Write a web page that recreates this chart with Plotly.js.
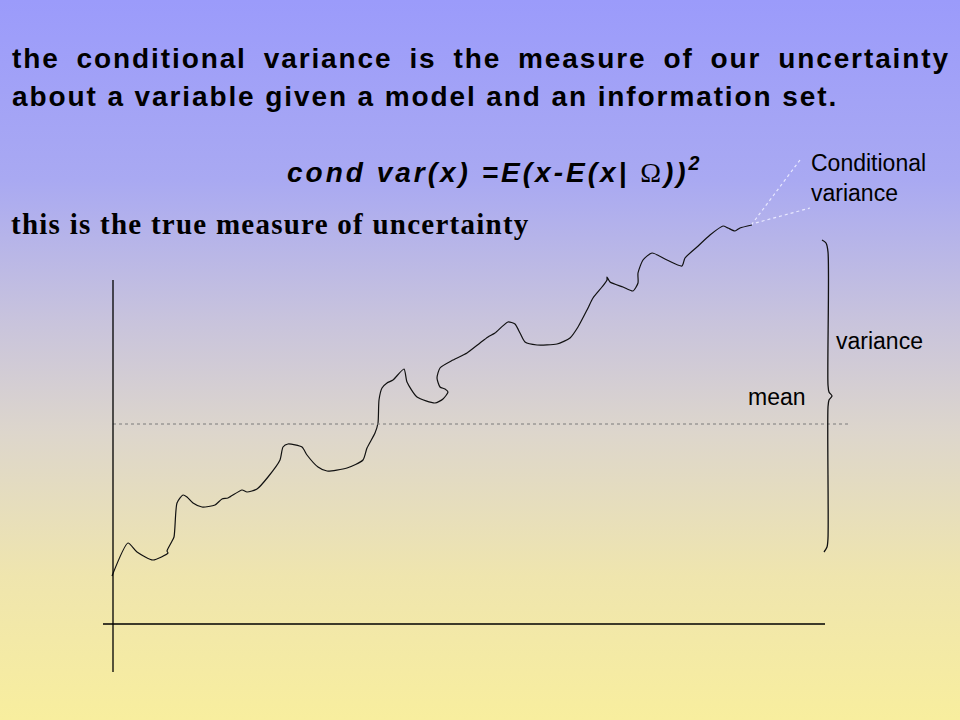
<!DOCTYPE html>
<html>
<head>
<meta charset="utf-8">
<script src="https://cdn.plot.ly/plotly-3.0.1.min.js"></script>
<style>
  html, body { margin: 0; padding: 0; width: 960px; height: 720px; overflow: hidden; }
  body { background: linear-gradient(to bottom, #9b9bfb 0%, #a9a9f2 25%, #c9c4dc 45%, #ddd6cc 60%, #efe5ae 80%, #f8ee9e 100%); }
  #chart { width: 960px; height: 720px; }
</style>
</head>
<body>
<div id="chart"></div>
<script>
// ---- data (x = time, y = value; origin at the axes' crossing) ----
const pathX = [-1, 15, 24, 40, 55, 54, 58, 61, 64, 70, 74, 80, 89, 102, 109, 115, 129, 134, 144, 155,
  167, 170, 175, 189, 194, 205, 214, 234, 250, 254, 262, 265, 266, 269, 274, 280, 291, 294, 304, 322,
  330, 335, 332, 327, 324, 327, 340, 354, 367, 375, 382, 395, 402, 407, 412, 424, 444, 457, 465, 474,
  480, 489, 494, 494, 497, 510, 520, 525, 525, 530, 539, 554, 569, 572, 584, 597, 610, 615, 622, 627, 639];
const pathY = [48, 81, 72, 64, 71, 73, 81, 87, 121, 129, 127, 121, 117, 119, 125, 126, 134, 132, 135, 147,
  164, 177, 180, 177, 169, 157, 153, 156, 164, 176, 191, 201, 224, 236, 241, 244, 255, 242, 227, 221,
  225, 232, 235, 237, 246, 256, 264, 271, 281, 287, 291, 302, 300, 291, 282, 279, 280, 286, 297, 314,
  326, 337, 344, 347, 342, 337, 333, 341, 351, 364, 371, 364, 358, 366, 377, 389, 398, 396, 393, 396, 399];
const meanValue = 200;
const meanSpan = [0, 735];
const yAxisSpan = [-48, 344];
const xAxisSpan = [-10, 712];
const braceX = [709, 713, 715, 715, 716, 719, 716, 715, 715, 714, 711];
const braceY = [384, 381, 372, 239, 232, 228, 224, 217, 86, 77, 72];
const leaderX = [687, 639, 697];
const leaderY = [464, 400, 416];

// ---- texts ----
const line1 = 'the conditional variance is the measure of our uncertainty';
const line2 = 'about a variable given a model and an information set.';
const formula = 'cond var(x) =E(x-E(x| <span style="font-family:\'Liberation Serif\';font-weight:normal;font-style:normal">&#937;</span>))<sup>2</sup>';
const line3 = 'this is the true measure of uncertainty';
const condLabel = 'Conditional<br>variance';
const varLabel = 'variance';
const meanLabel = 'mean';

const traces = [
  { x: pathX, y: pathY, type: 'scatter', mode: 'lines',
    line: { color: '#111111', width: 1.2, shape: 'spline', smoothing: 0.6 }, hoverinfo: 'skip' },
  { x: meanSpan, y: [meanValue, meanValue], type: 'scatter', mode: 'lines',
    line: { color: '#7a7a7a', width: 1, dash: 'dot' }, hoverinfo: 'skip' },
  { x: [0, 0], y: yAxisSpan, type: 'scatter', mode: 'lines',
    line: { color: '#000000', width: 1.3 }, hoverinfo: 'skip' },
  { x: xAxisSpan, y: [0, 0], type: 'scatter', mode: 'lines',
    line: { color: '#000000', width: 1.3 }, hoverinfo: 'skip' },
  { x: braceX, y: braceY, type: 'scatter', mode: 'lines',
    line: { color: '#111111', width: 1.3, shape: 'spline', smoothing: 0.8 }, hoverinfo: 'skip' },
  { x: leaderX, y: leaderY, type: 'scatter', mode: 'lines',
    line: { color: '#e8e8ff', width: 1.2, dash: 'dot' }, hoverinfo: 'skip' }
];

const sansBold = { family: 'Liberation Sans, Arial, sans-serif', size: 28, color: '#000000', weight: 'bold' };
const sans = { family: 'Liberation Sans, Arial, sans-serif', size: 23, color: '#000000' };

const layout = {
  width: 960, height: 720,
  margin: { l: 0, r: 0, t: 0, b: 0, pad: 0 },
  paper_bgcolor: 'rgba(0,0,0,0)', plot_bgcolor: 'rgba(0,0,0,0)',
  showlegend: false,
  xaxis: { range: [-113, 847], visible: false, fixedrange: true },
  yaxis: { range: [-96, 624], visible: false, fixedrange: true },
  annotations: [
    { xref: 'paper', yref: 'paper', x: 10 / 960, y: 1 - 58 / 720, xanchor: 'left', yanchor: 'middle',
      text: '<span style="letter-spacing:1.9px;word-spacing:7.2px">' + line1 + '</span>', showarrow: false, font: sansBold },
    { xref: 'paper', yref: 'paper', x: 10 / 960, y: 1 - 97 / 720, xanchor: 'left', yanchor: 'middle',
      text: '<span style="letter-spacing:1.9px">' + line2 + '</span>', showarrow: false, font: sansBold },
    { xref: 'paper', yref: 'paper', x: 285 / 960, y: 1 - 170 / 720, xanchor: 'left', yanchor: 'middle',
      text: '<span style="letter-spacing:3px">' + formula + '</span>', showarrow: false,
      font: { family: 'Liberation Sans, Arial, sans-serif', size: 28, color: '#000000', weight: 'bold', style: 'italic' } },
    { xref: 'paper', yref: 'paper', x: 9 / 960, y: 1 - 224 / 720, xanchor: 'left', yanchor: 'middle',
      text: '<span style="letter-spacing:1.25px">' + line3 + '</span>', showarrow: false,
      font: { family: 'Liberation Serif, Times New Roman, serif', size: 29, color: '#000000', weight: 'bold' } },
    { xref: 'paper', yref: 'paper', x: 809 / 960, y: 1 - 178 / 720, xanchor: 'left', yanchor: 'middle', align: 'left',
      text: condLabel, showarrow: false, font: sans },
    { xref: 'paper', yref: 'paper', x: 834 / 960, y: 1 - 341 / 720, xanchor: 'left', yanchor: 'middle',
      text: varLabel, showarrow: false, font: sans },
    { xref: 'paper', yref: 'paper', x: 746 / 960, y: 1 - 397 / 720, xanchor: 'left', yanchor: 'middle',
      text: meanLabel, showarrow: false, font: sans }
  ]
};

Plotly.newPlot('chart', traces, layout, { staticPlot: true, displayModeBar: false });
</script>
</body>
</html>
